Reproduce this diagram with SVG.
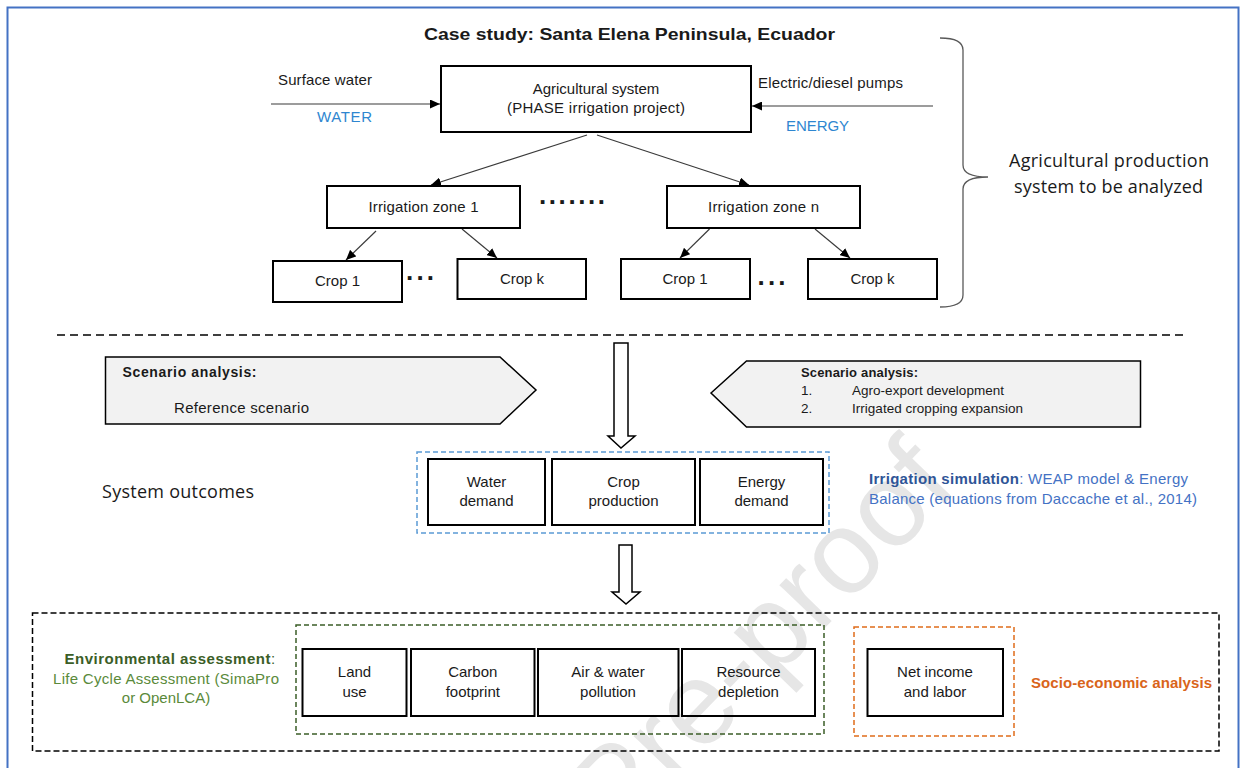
<svg xmlns="http://www.w3.org/2000/svg" width="1244" height="768" viewBox="0 0 1244 768">
<defs>
<marker id="ah" markerUnits="userSpaceOnUse" markerWidth="11" markerHeight="9" refX="10" refY="4.5" orient="auto">
<path d="M0,0 L10,4.5 L0,9 z" fill="#000"/>
</marker>
<style>
text{font-family:"Liberation Sans",Arial,sans-serif;fill:#1a1a1a}
.t{font-size:15px}
.c{text-anchor:middle}
.b{font-weight:bold}
.box{fill:none;stroke:#000;stroke-width:2}
.cn{stroke:#3a3a3a;stroke-width:1.2;fill:none;marker-end:url(#ah)}
.cal{font-family:"Open Sans","Noto Sans",sans-serif;font-size:18px}
.blue{fill:#2e86d0}
.dots{font-size:26px;font-weight:bold}
.wm{font-size:118px;fill:#e6e6e6}
</style>
</defs>
<rect x="0" y="0" width="1244" height="768" fill="#fff"/>
<text class="wm" x="960" y="488" text-anchor="end" transform="rotate(-46 960 488)">Journal Pre-proof</text>
<rect x="7.5" y="7.5" width="1231" height="800" fill="none" stroke="#4472c4" stroke-width="2"/>

<text class="b" x="629.5" y="40" font-size="17" text-anchor="middle" textLength="411" lengthAdjust="spacingAndGlyphs">Case study: Santa Elena Peninsula, Ecuador</text>

<g id="connectors">
<line class="cn" x1="271" y1="104" x2="440" y2="104"/>
<line class="cn" x1="933" y1="106" x2="752" y2="106"/>
<line class="cn" x1="587" y1="135" x2="431" y2="185"/>
<line class="cn" x1="597" y1="135" x2="749" y2="185"/>
<line class="cn" x1="376" y1="231" x2="346" y2="260"/>
<line class="cn" x1="462" y1="229" x2="497" y2="258"/>
<line class="cn" x1="709.5" y1="229" x2="680" y2="258"/>
<line class="cn" x1="815" y1="229" x2="850" y2="258"/>
<polygon points="614,343 628,343 628,436 635,436 621,448 608,436 614,436" fill="#fff" stroke="#000" stroke-width="1.5"/>
<polygon points="619,545 632,545 632,592 640,592 626,604 612,592 619,592" fill="#fff" stroke="#000" stroke-width="1.5"/>
</g>

<g id="inputs">
<text class="t" x="278" y="85" textLength="94">Surface water</text>
<text class="t blue" x="317" y="122" textLength="55">WATER</text>
<text class="t" x="758" y="88" textLength="145">Electric/diesel pumps</text>
<text class="t blue" x="786" y="131" textLength="63">ENERGY</text>
</g>

<g id="agri">
<rect class="box" x="441" y="66" width="310" height="66"/>
<text class="t c" x="596" y="94">Agricultural system</text>
<text class="t c" x="596" y="113" textLength="178">(PHASE irrigation project)</text>
</g>

<g id="zone1">
<rect class="box" x="327" y="186" width="193" height="42"/>
<text class="t c" x="423.5" y="212" textLength="110">Irrigation zone 1</text>
</g>
<text class="dots" x="539" y="204" textLength="66">.......</text>
<g id="zonen">
<rect class="box" x="667" y="186" width="193" height="42"/>
<text class="t c" x="763.5" y="212" textLength="111">Irrigation zone n</text>
</g>

<g id="crop1a">
<rect class="box" x="273" y="261" width="129" height="41"/>
<text class="t c" x="337.5" y="286">Crop 1</text>
</g>
<text class="dots" x="406" y="280" textLength="28">...</text>
<g id="cropka">
<rect class="box" x="457.5" y="259" width="128.5" height="40"/>
<text class="t c" x="522" y="284">Crop k</text>
</g>
<g id="crop1b">
<rect class="box" x="621" y="259" width="129" height="40"/>
<text class="t c" x="685" y="284">Crop 1</text>
</g>
<text class="dots" x="757.5" y="285" textLength="28">...</text>
<g id="cropkb">
<rect class="box" x="808" y="259" width="129" height="40"/>
<text class="t c" x="872.5" y="284">Crop k</text>
</g>

<g id="brace">
<path d="M940,38 Q963,38 963,50 L963,165 Q963,177 988,177 Q963,177 963,189 L963,295 Q963,307 940,307" fill="none" stroke="#595959" stroke-width="1.3"/>
<text class="cal c" x="1109" y="167" textLength="200">Agricultural production</text>
<text class="cal c" x="1108.5" y="193" textLength="189">system to be analyzed</text>
</g>

<line x1="57" y1="335" x2="1183" y2="335" stroke="#000" stroke-width="1.5" stroke-dasharray="8,5"/>

<g id="scenario-ref">
<polygon points="105.5,357 500,357 536,390 500,424 105.5,424" fill="#f2f2f2" stroke="#000" stroke-width="1.5"/>
<text class="b" x="122.5" y="377" font-size="14" textLength="134">Scenario analysis:</text>
<text class="t" x="174" y="413" textLength="135">Reference scenario</text>
</g>

<g id="scenario-alt">
<polygon points="711,393 746.5,361 1140.5,361 1140.5,427 746.5,427" fill="#f2f2f2" stroke="#000" stroke-width="1.5"/>
<text class="b" x="801" y="377" font-size="13" textLength="117">Scenario analysis:</text>
<text x="801" y="395" font-size="13.5">1.</text>
<text x="852" y="395" font-size="13.5" textLength="152">Agro-export development</text>
<text x="801" y="413" font-size="13.5">2.</text>
<text x="852" y="413" font-size="13.5" textLength="171">Irrigated cropping expansion</text>
</g>

<text class="cal" x="102" y="498" textLength="152">System outcomes</text>

<g id="outcomes">
<rect x="417" y="452" width="412" height="81" fill="none" stroke="#5b9bd5" stroke-width="1.5" stroke-dasharray="5,3"/>
<g id="water-demand">
<rect class="box" x="428" y="459" width="117" height="66"/>
<text class="t c" x="486.5" y="487">Water</text>
<text class="t c" x="486.5" y="506">demand</text>
</g>
<g id="crop-production">
<rect class="box" x="552" y="459" width="143" height="66"/>
<text class="t c" x="623.5" y="487">Crop</text>
<text class="t c" x="623.5" y="506">production</text>
</g>
<g id="energy-demand">
<rect class="box" x="700" y="459" width="123" height="66"/>
<text class="t c" x="761.5" y="487">Energy</text>
<text class="t c" x="761.5" y="506">demand</text>
</g>
</g>

<g id="irrigation-sim">
<text class="t" x="869" y="484" textLength="319"><tspan class="b" style="fill:#2f5597">Irrigation simulation</tspan><tspan style="fill:#4472c4">:  WEAP model &amp; Energy</tspan></text>
<text class="t" x="869" y="504" style="fill:#4472c4" textLength="328">Balance (equations from Daccache et al., 2014)</text>
</g>

<g id="assessment">
<rect x="32.5" y="613" width="1186.5" height="138" fill="none" stroke="#000" stroke-width="1.5" stroke-dasharray="6,3"/>
<rect x="296" y="625" width="528" height="109" fill="none" stroke="#3b5e27" stroke-width="1.5" stroke-dasharray="5,3"/>
<rect x="854" y="627" width="160" height="109" fill="none" stroke="#e06c1a" stroke-width="1.5" stroke-dasharray="5,3"/>
<text class="t" x="64.5" y="664"><tspan class="b" style="fill:#3b5e27" textLength="206">Environmental assessment</tspan><tspan style="fill:#3b5e27">:</tspan></text>
<text class="t c" x="166" y="684" style="fill:#5a8a3a" textLength="226">Life Cycle Assessment (SimaPro</text>
<text class="t c" x="166" y="703" style="fill:#5a8a3a">or OpenLCA)</text>
<text class="t b" x="1031" y="688" style="fill:#d9641a" textLength="181">Socio-economic analysis</text>
</g>

<g id="land-use">
<rect class="box" x="302.5" y="649" width="104" height="67"/>
<text class="t c" x="354.5" y="677">Land</text>
<text class="t c" x="354.5" y="697">use</text>
</g>
<g id="carbon">
<rect class="box" x="411" y="649" width="123.5" height="67"/>
<text class="t c" x="472.8" y="677">Carbon</text>
<text class="t c" x="472.8" y="697">footprint</text>
</g>
<g id="pollution">
<rect class="box" x="538" y="649" width="140.5" height="67"/>
<text class="t c" x="608" y="677">Air &amp; water</text>
<text class="t c" x="608" y="697">pollution</text>
</g>
<g id="resource">
<rect class="box" x="682" y="649" width="133" height="67"/>
<text class="t c" x="748.5" y="677">Resource</text>
<text class="t c" x="748.5" y="697">depletion</text>
</g>
<g id="income">
<rect class="box" x="867.5" y="649" width="135.5" height="67"/>
<text class="t c" x="935" y="677">Net income</text>
<text class="t c" x="935" y="697">and labor</text>
</g>
</svg>
